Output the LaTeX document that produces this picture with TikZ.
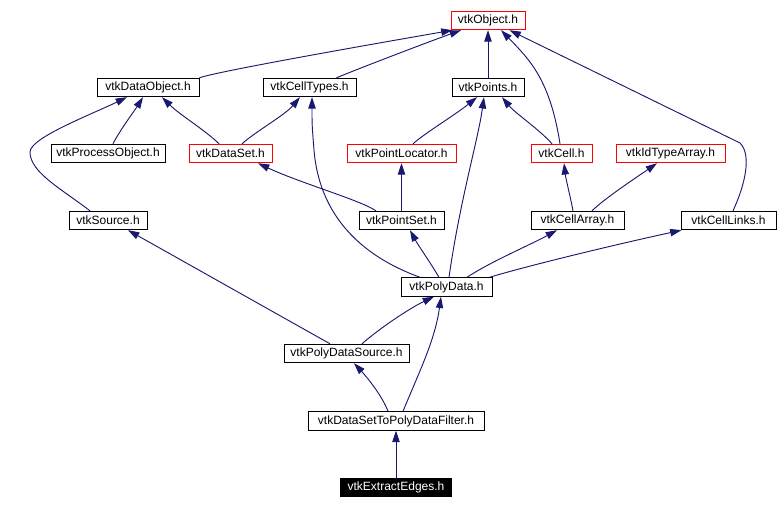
\documentclass[tikz,border=0pt]{standalone}
\usepackage{fontspec}
\setmainfont{Liberation Sans}
\usetikzlibrary{arrows.meta,calc}
\definecolor{edgecol}{HTML}{191970}
\begin{document}
\begin{tikzpicture}[x=0.75pt,y=-0.75pt,
  box/.style={draw=black, rectangle, inner sep=0pt, minimum height=13.8pt, line width=0.75pt, font=\fontsize{9}{10}\selectfont, text=black},
  redbox/.style={box, draw=red},
  hilite/.style={box, fill=black, text=white},
  edge/.style={draw=edgecol, line width=0.7pt, -{Triangle[length=8.5pt,width=5.5pt]}, fill=none}]
\useasboundingbox (0,0) rectangle (778,509);
% nodes
\node[redbox, minimum width=55.5pt]  (obj)    at (488,20.5)   {vtkObject.h};
\node[box, minimum width=76.5pt]     (dobj)   at (148,87.5)   {vtkDataObject.h};
\node[box, minimum width=69.75pt]    (ctypes) at (309.5,87.5) {vtkCellTypes.h};
\node[box, minimum width=54pt]       (points) at (488,87.5)   {vtkPoints.h};
\node[box, minimum width=85.5pt]     (proc)   at (108,153.5)  {vtkProcessObject.h};
\node[redbox, minimum width=62.25pt] (dset)   at (230.5,153.5){vtkDataSet.h};
\node[redbox, minimum width=81.75pt] (ploc)   at (401.5,153.5){vtkPointLocator.h};
\node[redbox, minimum width=45.75pt] (cell)   at (561.5,153.5){vtkCell.h};
\node[redbox, minimum width=81.75pt] (idarr)  at (670.5,153.5){vtkIdTypeArray.h};
\node[box, minimum width=58.5pt]     (src)    at (108,220.5)  {vtkSource.h};
\node[box, minimum width=63.75pt]    (pset)   at (401.5,220.5){vtkPointSet.h};
\node[box, minimum width=69.75pt]    (carr)   at (577.5,220.5){vtkCellArray.h};
\node[box, minimum width=71.25pt]    (clinks) at (728.5,220.5){vtkCellLinks.h};
\node[box, minimum width=68.25pt]    (pdata)  at (446.5,287)  {vtkPolyData.h};
\node[box, minimum width=93.75pt]    (pdsrc)  at (346.5,353.5){vtkPolyDataSource.h};
\node[box, minimum width=132pt]      (filt)   at (396,421)    {vtkDataSetToPolyDataFilter.h};
\node[hilite, minimum width=83.25pt] (edges)  at (396,487.5)  {vtkExtractEdges.h};
% connectors (child -> parent)
\draw[edge] (dobj.north east) .. controls (215,72) and (350,48) .. ($(obj.south west)+(2,0)$);
\draw[edge] ($(ctypes.north)+(27,0)$) .. controls (350,72) and (420,45) .. ($(obj.south)+(-27,0)$);
\draw[edge] (points.north) -- (obj.south);
\draw[edge] ($(cell.north)+(-1.5,0)$) .. controls (550,80) and (530,60) .. ($(obj.south)+(13,0)$);
\draw[edge] ($(clinks.north)+(4.5,0)$) .. controls (745,185) and (752,155) .. (740,143) -- ($(obj.south east)+(-16,0)$);
\draw[edge] ($(proc.north)+(5,0)$) .. controls (120,130) and (135,110) .. ($(dobj.south)+(-5,0)$);
\draw[edge] ($(src.north)+(-18,0)$) .. controls (60,188) and (30,172) .. (30,152) .. controls (30,138) and (90,115) .. ($(dobj.south)+(-21,0)$);
\draw[edge] ($(dset.north)+(-11.5,0)$) .. controls (205,130) and (180,115) .. ($(dobj.south)+(14,0)$);
\draw[edge] ($(dset.north)+(11.5,0)$) .. controls (255,132) and (285,115) .. ($(ctypes.south)+(-9.5,0)$);
\draw[edge] ($(ploc.north)+(11.5,0)$) .. controls (425,133) and (455,115) .. ($(points.south)+(-11,0)$);
\draw[edge] ($(cell.north)+(-9.5,0)$) .. controls (540,130) and (515,113) .. ($(points.south)+(14,0)$);
\draw[edge] ($(pset.north)+(-25.5,0)$) .. controls (360,200) and (300,183) .. ($(dset.south)+(27.5,0)$);
\draw[edge] (pset.north) -- (ploc.south);
\draw[edge] ($(carr.north)+(-4.5,0)$) .. controls (570,195) and (566,180) .. ($(cell.south)+(2.5,0)$);
\draw[edge] ($(carr.north)+(14.5,0)$) .. controls (605,198) and (640,175) .. ($(idarr.south)+(-13.5,0)$);
\draw[edge] ($(pdata.north)+(-26.5,0)$) .. controls (345,250) and (318,200) .. (314,150) .. controls (312,125) .. ($(ctypes.south)+(2.5,0)$);
\draw[edge] ($(pdata.north)+(-7.5,0)$) .. controls (430,262) and (418,245) .. ($(pset.south)+(8.5,0)$);
\draw[edge] ($(pdata.north)+(2.5,0)$) .. controls (460,200) and (478,140) .. ($(points.south)+(-4,0)$);
\draw[edge] ($(pdata.north)+(20.5,0)$) .. controls (490,262) and (530,245) .. ($(carr.south)+(-20.5,0)$);
\draw[edge] ($(pdata.north east)+(-3,0)$) .. controls (520,268) and (600,248) .. ($(clinks.south west)+(1,0)$);
\draw[edge] ($(pdsrc.north)+(-16.5,0)$) -- ($(src.south)+(20,0)$);
\draw[edge] ($(pdsrc.north)+(15.5,0)$) .. controls (380,328) and (410,308) .. ($(pdata.south)+(-12.5,0)$);
\draw[edge] ($(filt.north)+(-8,0)$) .. controls (382,395) and (365,375) .. ($(pdsrc.south)+(7.5,0)$);
\draw[edge] ($(filt.north)+(7,0)$) .. controls (420,370) and (435,340) .. ($(pdata.south)+(-5.5,0)$);
\draw[edge] (edges.north) -- (filt.south);
\end{tikzpicture}
\end{document}
